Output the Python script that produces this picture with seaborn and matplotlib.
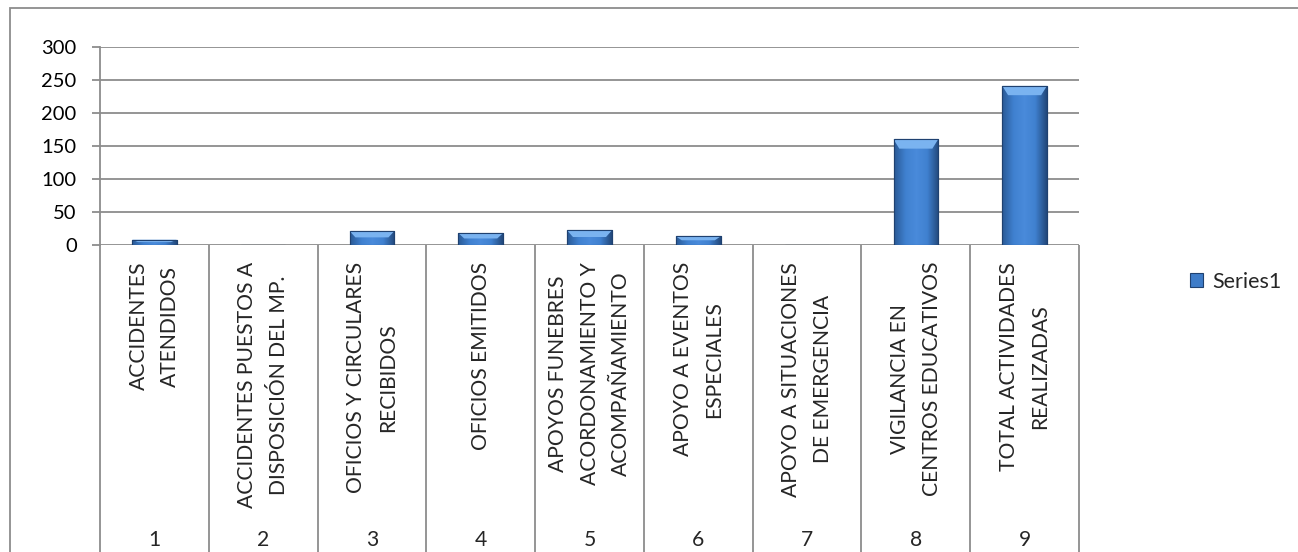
import matplotlib.pyplot as plt
import matplotlib.colors as mcolors
from matplotlib.patches import Polygon, Rectangle
import numpy as np
import pandas as pd
import seaborn as sns

categorias = [
    "ACCIDENTES\nATENDIDOS",
    "ACCIDENTES PUESTOS A\nDISPOSICIÓN DEL MP.",
    "OFICIOS Y CIRCULARES\nRECIBIDOS",
    "OFICIOS EMITIDOS",
    "APOYOS FUNEBRES\nACORDONAMIENTO Y\nACOMPAÑAMIENTO",
    "APOYO A EVENTOS\nESPECIALES",
    "APOYO A SITUACIONES\nDE EMERGENCIA",
    "VIGILANCIA EN\nCENTROS EDUCATIVOS",
    "TOTAL ACTIVIDADES\nREALIZADAS",
]
numeros = ["1", "2", "3", "4", "5", "6", "7", "8", "9"]
valores = [8, 0, 21, 18, 22, 13, 0, 160, 241]
y_ticks = [0, 50, 100, 150, 200, 250, 300]

df = pd.DataFrame({"num": numeros, "valor": valores})

sns.set_style("white")
plt.rcParams["font.family"] = ["Lato", "DejaVu Sans"]

W, H = 1298, 552
fig = plt.figure(figsize=(W / 100, H / 100), dpi=100)
# axes placed in pixel terms: plot area from x=100..1079, y=47..245
ax = fig.add_axes([100 / W, 1 - 245 / H, (1079 - 100) / W, (245 - 47) / H])

grid_c = "#8C8C8C"
sns.barplot(data=df, x="num", y="valor", color="#3E7CC8", saturation=1,
            width=0.41, edgecolor="#1F4170", linewidth=0.8, ax=ax, zorder=3,
            label="Series1")

# gradient + top bevel on each bar
grad_cmap = mcolors.LinearSegmentedColormap.from_list(
    "bar", ["#2A5A96", "#3F80CF", "#4A8BDB", "#3F80CF", "#23497C"])
grad = np.linspace(0, 1, 64).reshape(1, -1)
for p in list(ax.patches):
    x, y = p.get_x(), p.get_y()
    w, h = p.get_width(), p.get_height()
    if h <= 0:
        continue
    im = ax.imshow(grad, cmap=grad_cmap, extent=[x, x + w, y, y + h],
                   aspect="auto", zorder=3.5, interpolation="bicubic")
    im.set_clip_path(p)
    d = min(14, h * 0.45)
    inset = w * 0.13
    bevel = Polygon([[x, y + h], [x + w, y + h], [x + w - inset, y + h - d],
                     [x + inset, y + h - d]], closed=True,
                    facecolor="#7AB3F0", edgecolor="none", zorder=3.6)
    ax.add_patch(bevel)
    ax.add_patch(Rectangle((x, y), w, h, facecolor="none",
                           edgecolor="#1F4170", linewidth=0.8, zorder=3.7))

ax.set_xlim(-0.5, len(numeros) - 0.5)
ax.set_ylim(0, 300)
ax.set_yticks(y_ticks)
ax.set_xticks([])
ax.set_xlabel("")
ax.set_ylabel("")
ax.yaxis.grid(True, color=grid_c, linewidth=1.3)
ax.set_axisbelow(True)
for s in ["top", "right", "bottom"]:
    ax.spines[s].set_visible(False)
ax.spines["left"].set_color(grid_c)
ax.spines["left"].set_linewidth(1.3)
ax.tick_params(axis="y", direction="out", length=5.8, width=1.3,
               color=grid_c, pad=11, labelsize=14.5, labelcolor="black", left=True)

# category separators running down through the label area
px = 1 / 198  # axes fraction per pixel vertically
sep_x = np.arange(-0.5, len(numeros), 1.0)
ax.vlines(sep_x, -(552 - 245) * px - 0.05, 0, transform=ax.get_xaxis_transform(),
          color=grid_c, linewidth=1.3, clip_on=False)

for i, (lab, num) in enumerate(zip(categorias, numeros)):
    ax.text(i, -(262 - 245) * px, lab, rotation=90, ha="center", va="top",
            multialignment="center", fontsize=15.2, linespacing=1.72,
            transform=ax.get_xaxis_transform(), clip_on=False)
    ax.text(i, -(550 - 245) * px, num, ha="center", va="bottom", fontsize=15.2,
            transform=ax.get_xaxis_transform(), clip_on=False)

leg = ax.legend(loc="center left", bbox_to_anchor=(1190 / W, 1 - 282 / H),
                bbox_transform=fig.transFigure, frameon=False, fontsize=15.5,
                handlelength=0.62, handleheight=0.62, handletextpad=0.4,
                borderpad=0, borderaxespad=0)

# outer chart border (left and top visible)
fig.patches.append(Rectangle((10 / W, -0.1), 1.2, 1 - 8 / H + 0.1,
                             transform=fig.transFigure, fill=False,
                             edgecolor="#8C8C8C", linewidth=1.3))

fig.savefig("out.png", dpi=100)
